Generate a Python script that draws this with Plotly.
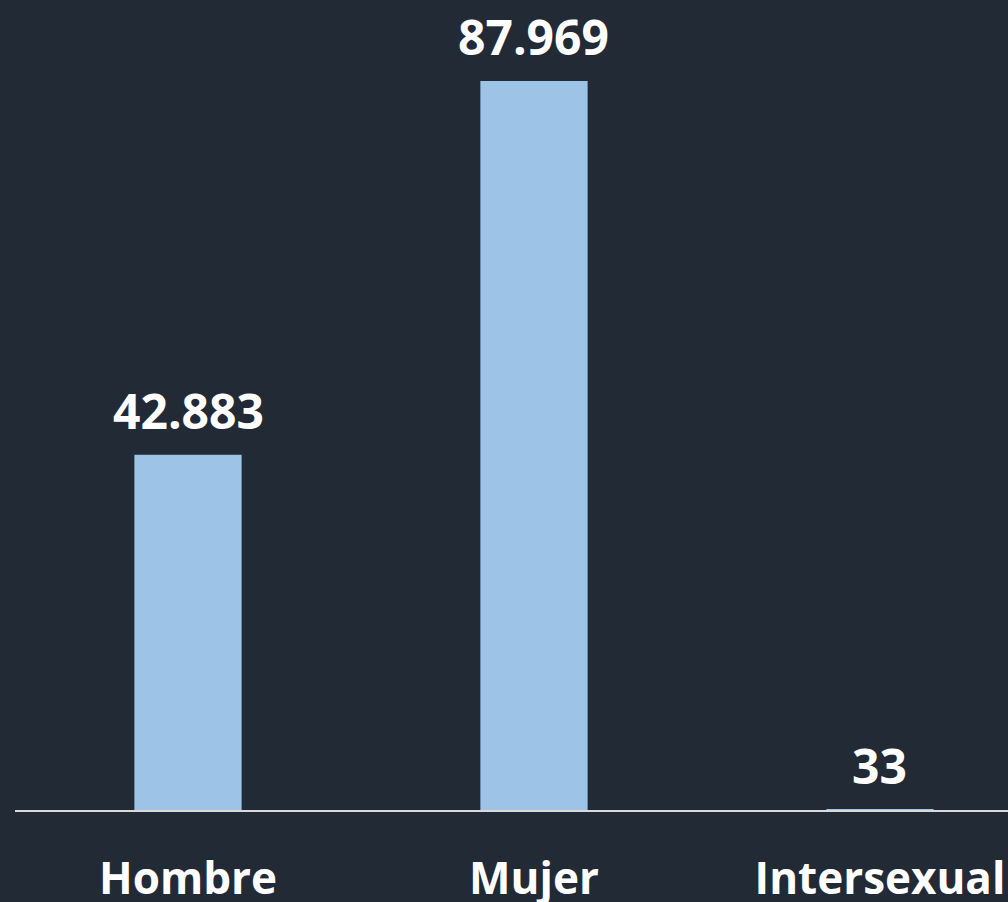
import plotly.graph_objects as go

categories = ["Hombre", "Mujer", "Intersexual"]
values = [42883, 87969, 33]
value_labels = ["42.883", "87.969", "33"]

BG = "#222a35"
BAR = "#9dc3e6"
FONT = "Open Sans"

fig = go.Figure()
fig.add_trace(go.Bar(
    x=categories, y=values, marker=dict(color=BAR, line=dict(width=0)),
    hoverinfo="skip",
))

for c, v, t in zip(categories, values, value_labels):
    fig.add_annotation(x=c, y=v, text="<b>%s</b>" % t, showarrow=False,
                       xanchor="center", yanchor="bottom", yshift=10,
                       font=dict(family=FONT, size=48, color="white"))

fig.update_layout(
    width=1008, height=902,
    margin=dict(l=15, r=0, t=0, b=92),
    paper_bgcolor=BG, plot_bgcolor=BG,
    bargap=0.69, showlegend=False,
    xaxis=dict(range=[-0.5, 2.37], showgrid=False, zeroline=False,
               showline=True, linecolor="#d9d9d9", linewidth=2,
               ticks="", tickfont=dict(family=FONT, size=44, color="white"),
               tickvals=categories,
               ticktext=["<b>%s</b>" % c for c in categories],
               ticklabelstandoff=29, automargin=False),
    yaxis=dict(range=[0, 97743], visible=False, showgrid=False,
               zeroline=False, automargin=False),
)

fig.write_html(
    "out.html",
    config={"displayModeBar": False},
    post_script="document.body.style.margin='0';document.body.style.overflow='hidden';document.body.style.background='%s';" % BG,
)
